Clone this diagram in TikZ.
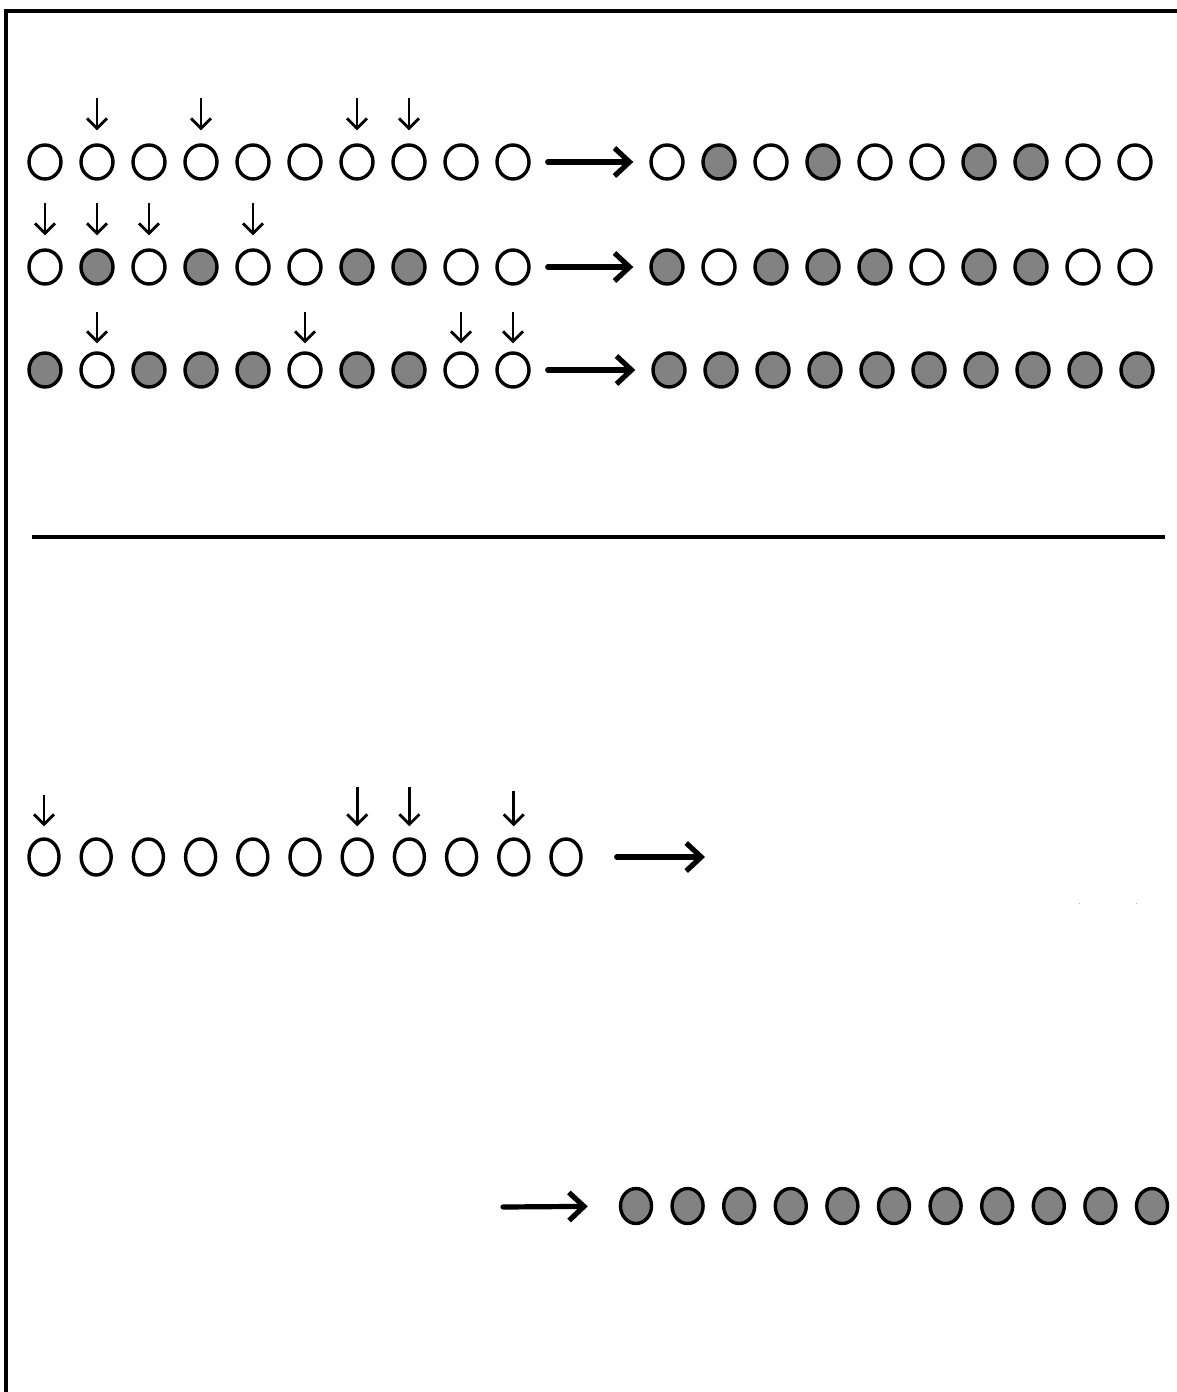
\documentclass[tikz,border=0pt]{standalone}
\usetikzlibrary{shapes.geometric,arrows.meta}
\definecolor{dotgray}{RGB}{130,130,130}
\begin{document}
\begin{tikzpicture}[x=0.5pt,y=-0.5pt,
  pt/.style={ellipse,draw=black,line width=1.7pt,inner sep=0pt,minimum width=16pt,minimum height=17pt},
  ptw/.style={pt,fill=white},
  ptg/.style={pt,fill=dotgray},
  ptbw/.style={ellipse,draw=black,line width=1.7pt,inner sep=0pt,minimum width=15pt,minimum height=18pt,fill=white},
  ptbg/.style={ellipse,draw=black,line width=1.7pt,inner sep=0pt,minimum width=15.5pt,minimum height=17.5pt,fill=dotgray},
  darrow/.style={line width=1.4pt,-{Straight Barb[length=5pt,width=10pt]}},
  bigarrow/.style={line width=2.6pt,line cap=round,-{Straight Barb[length=7.5pt,width=14pt]}}]
\useasboundingbox (0,0) rectangle (1177,1392);
% frame
\draw[line width=2pt] (6.3,1392) -- (6.3,11.3) -- (1177,11.3);
% row 1
\foreach \f [count=\i] in {w,w,w,w,w,w,w,w,w,w}
  \node[pt\f] (a1-\i) at ({45+52*(\i-1)},162) {};
\foreach \f [count=\i] in {w,g,w,g,w,w,g,g,w,w}
  \node[pt\f] (b1-\i) at ({667+52*(\i-1)},162) {};
% row 2
\foreach \f [count=\i] in {w,g,w,g,w,w,g,g,w,w}
  \node[pt\f] (a2-\i) at ({45+52*(\i-1)},267) {};
\foreach \f [count=\i] in {g,w,g,g,g,w,g,g,w,w}
  \node[pt\f] (b2-\i) at ({667+52*(\i-1)},267) {};
% row 3
\foreach \f [count=\i] in {g,w,g,g,g,w,g,g,w,w}
  \node[pt\f] (a3-\i) at ({45+52*(\i-1)},370) {};
\foreach \f [count=\i] in {g,g,g,g,g,g,g,g,g,g}
  \node[pt\f] (b3-\i) at ({669+52*(\i-1)},370) {};
% selection arrows
\foreach \i in {2,4,7,8} {
  \coordinate (t1-\i) at ({45+52*(\i-1)},98);
  \draw[darrow,shorten >=6.5pt] (t1-\i) -- (a1-\i.north);
}
\foreach \i in {1,2,3,5} {
  \coordinate (t2-\i) at ({45+52*(\i-1)},203);
  \draw[darrow,shorten >=6.5pt] (t2-\i) -- (a2-\i.north);
}
\foreach \i in {2,6,9,10} {
  \coordinate (t3-\i) at ({45+52*(\i-1)},312);
  \draw[darrow,shorten >=4pt] (t3-\i) -- (a3-\i.north);
}
% big arrows
\draw[bigarrow,shorten <=8.5pt,shorten >=8pt] (a1-10) -- (b1-1);
\draw[bigarrow,shorten <=8.5pt,shorten >=8pt] (a2-10) -- (b2-1);
\draw[bigarrow,shorten <=8.5pt,shorten >=8pt] (a3-10) -- (b3-1);
% separator
\coordinate (sepL) at (32,537);
\coordinate (sepR) at (1165,537);
\draw[line width=2pt] (sepL) -- (sepR);
% bottom row
\foreach \i in {1,...,11}
  \node[ptbw] (c-\i) at ({44+52.2*(\i-1)},857) {};
\coordinate (tc-1) at (44,795);
\coordinate (tc-7) at ({44+52.2*6},787);
\coordinate (tc-8) at ({44+52.2*7},787);
\coordinate (tc-10) at ({44+52.2*9},791);
\foreach \i in {1,7,8,10}
  \draw[darrow,shorten >=5.5pt] (tc-\i) -- (c-\i.north);
\coordinate (cend) at (705,857);
\draw[bigarrow,shorten <=17pt] (c-11) -- (cend);
% tiny specks
\fill[gray!60] (1078.5,902.5) rectangle (1080,904);
\fill[gray!60] (1135.5,902.5) rectangle (1137,904);
% final gray row
\foreach \i in {1,...,11}
  \node[ptbg] (d-\i) at ({636+51.6*(\i-1)},1206) {};
\coordinate (dstart) at (503,1207);
\draw[bigarrow,shorten >=15.5pt] (dstart) -- (d-1);
\end{tikzpicture}
\end{document}
